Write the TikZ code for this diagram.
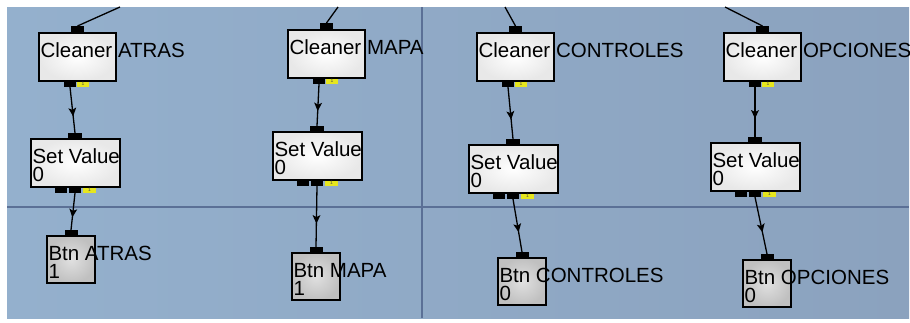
\documentclass[tikz,border=0pt]{standalone}
\usepackage{fontspec}
\setmainfont{Liberation Sans}
\usetikzlibrary{arrows.meta, decorations.markings}
\definecolor{BgLeft}{HTML}{94B0CD}
\definecolor{BgRight}{HTML}{8BA2BE}
\definecolor{Grid}{HTML}{5B7096}
\definecolor{Tag}{HTML}{E6E61E}
\definecolor{BtnGray}{HTML}{C0C0C0}
\tikzset{
    box/.style={draw=black, line width=1.5pt, inner sep=0pt, outer sep=0pt, anchor=north west},
    whitebox/.style={box, inner color=white, outer color=black!9},
    graybox/.style={box, inner color=black!12, outer color=BtnGray},
    port/.style={fill=black, inner sep=0pt, outer sep=0pt, minimum width=12pt, minimum height=6pt},
    tag/.style={fill=Tag, inner sep=0pt, outer sep=0pt, minimum width=12pt, minimum height=5pt, font=\fontsize{5}{5}\selectfont, text=black!70},
    boxtext/.style={inner sep=0pt, outer sep=0pt, anchor=base west, font=\fontsize{20.5}{20.5}\selectfont},
    wire/.style={line width=1.3pt},
    flow/.style={wire, postaction={decorate}, decoration={markings, mark=at position 0.55 with {\fill (4pt,0pt) -- (-4.5pt,4pt) -- (-2.5pt,0pt) -- (-4.5pt,-4pt) -- cycle;}}},
}
\NewDocumentCommand{\DrawCleaner}{m m m m}{
    % name, x, y, label
    \begin{scope}[shift={(#2,#3)}]
        \node[whitebox, minimum width=77pt, minimum height=48pt] (#1) at (0,0) {};
        \node[boxtext] (#1-text) at (1.5,24.5) {Cleaner};
        \node[boxtext] (#1-label) at (79,24.5) {#4};
        \node[port, anchor=south, minimum width=13pt, minimum height=7pt] (#1-in) at (38.5,0) {};
        \node[port, anchor=north] (#1-out) at (31,48) {};
        \node[tag, anchor=north] (#1-tag) at (44,48.5) {1};
    \end{scope}
}
\NewDocumentCommand{\DrawSetValue}{m m m}{
    % name, x, y
    \begin{scope}[shift={(#2,#3)}]
        \node[whitebox, minimum width=89pt, minimum height=48pt] (#1) at (0,0) {};
        \begin{scope}
            \clip (0,0) rectangle (88,48);
            \node[boxtext] (#1-text) at (1.5,24) {Set Value};
        \end{scope}
        \node[boxtext] (#1-value) at (1.5,42.5) {0};
        \node[port, anchor=south, minimum width=14pt] (#1-in) at (44,0) {};
        \node[port, anchor=north] (#1-aux) at (30,48) {};
        \node[port, anchor=north] (#1-out) at (44,48) {};
        \node[tag, anchor=north, minimum width=13pt] (#1-tag) at (58.5,48.5) {1};
    \end{scope}
}
\NewDocumentCommand{\DrawBtn}{m m m m m}{
    % name, x, y, label, value
    \begin{scope}[shift={(#2,#3)}]
        \node[graybox, minimum width=48pt, minimum height=47pt] (#1) at (0,0) {};
        \node[boxtext] (#1-text) at (1.5,24) {Btn #4};
        \node[boxtext] (#1-value) at (1.5,42.5) {#5};
        \node[port, anchor=south, minimum width=13pt] (#1-in) at (24,0) {};
    \end{scope}
}
\begin{document}
\begin{tikzpicture}[x=1pt, y=-1pt]

    \useasboundingbox (0,0) rectangle (910,322);
    \shade[left color=BgLeft, right color=BgRight] (7,7) rectangle (909,318);
    \draw[Grid, line width=2pt] (7,207) -- (909,207);
    \draw[Grid, line width=2pt] (422,7) -- (422,318);

    \DrawCleaner{c1}{39}{33}{ATRAS}
    \DrawSetValue{s1}{31}{139}
    \DrawBtn{b1}{47}{236}{ATRAS}{1}

    \DrawCleaner{c2}{288}{30}{MAPA}
    \DrawSetValue{s2}{273}{132}
    \DrawBtn{b2}{292}{253}{MAPA}{1}

    \DrawCleaner{c3}{477}{33}{CONTROLES}
    \DrawSetValue{s3}{469}{145}
    \DrawBtn{b3}{498}{258}{CONTROLES}{0}

    \DrawCleaner{c4}{724}{33}{OPCIONES}
    \DrawSetValue{s4}{711}{143}
    \DrawBtn{b4}{743}{260}{OPCIONES}{0}

    % wires coming in from above
    \coordinate (c1-from) at (120,7);
    \coordinate (c2-from) at (338,7);
    \coordinate (c3-from) at (505,7);
    \coordinate (c4-from) at (725,7);
    \foreach \i in {1,...,4} {
        \draw[wire] (c\i-in.north) -- (c\i-from);
        \draw[flow] (c\i-out.south) -- (s\i-in.north);
        \draw[flow] (s\i-out.south) -- (b\i-in.north);
    }
\end{tikzpicture}
\end{document}
